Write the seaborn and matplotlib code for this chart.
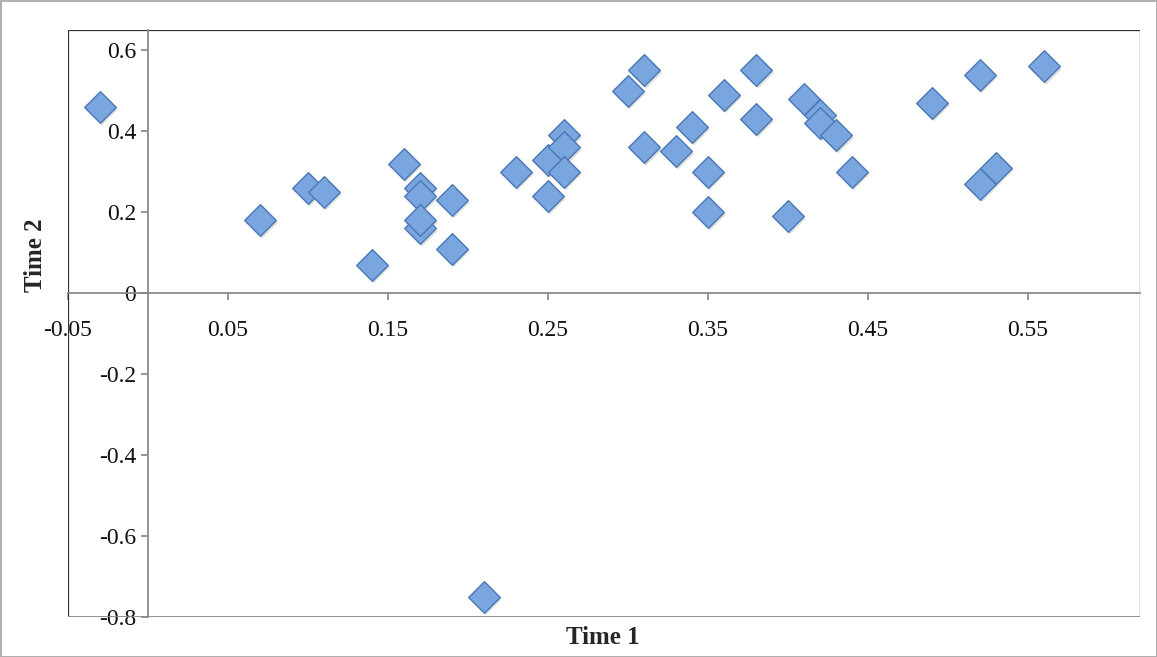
import matplotlib
matplotlib.use("Agg")
import matplotlib.pyplot as plt
from matplotlib.patches import Rectangle
import seaborn as sns
import pandas as pd

sns.set_theme(style="white")
plt.rcParams['font.family'] = ['Liberation Serif', 'DejaVu Serif']

time1 = [-0.03, 0.07, 0.10, 0.11, 0.14, 0.16, 0.17, 0.17, 0.17, 0.17, 0.19, 0.19, 0.21,
         0.23, 0.25, 0.25, 0.26, 0.26, 0.26, 0.30, 0.31, 0.31, 0.33, 0.34, 0.35, 0.35,
         0.36, 0.38, 0.38, 0.40, 0.41, 0.42, 0.42, 0.43, 0.44, 0.49, 0.52, 0.52, 0.53, 0.56]
time2 = [0.46, 0.18, 0.26, 0.25, 0.07, 0.32, 0.26, 0.24, 0.16, 0.18, 0.23, 0.11, -0.75,
         0.30, 0.33, 0.24, 0.39, 0.36, 0.30, 0.50, 0.55, 0.36, 0.35, 0.41, 0.30, 0.20,
         0.49, 0.55, 0.43, 0.19, 0.48, 0.44, 0.42, 0.39, 0.30, 0.47, 0.54, 0.27, 0.31, 0.56]
xticks = [-0.05, 0.05, 0.15, 0.25, 0.35, 0.45, 0.55]
yticks = [-0.8, -0.6, -0.4, -0.2, 0, 0.2, 0.4, 0.6]

df = pd.DataFrame({"Time 1": time1, "Time 2": time2})

fig = plt.figure(figsize=(11.57, 6.57), dpi=100)
fig.patch.set_edgecolor("#b0b0b0")
fig.patch.set_linewidth(2)
ax = fig.add_axes([68/1157, 40/657, 1072/1157, 587/657])

# shadow then marker
sns.scatterplot(x=[v + 0.0012 for v in time1], y=[v - 0.006 for v in time2], marker="D", s=260,
                color="#c8c8c8", edgecolor="none", alpha=0.6, ax=ax, zorder=2, legend=False)
sns.scatterplot(data=df, x="Time 1", y="Time 2", marker="D", s=260,
                color="#7aa6e0", edgecolor="#4a78b5", linewidth=1, ax=ax, zorder=3)

ax.set_xlim(-0.05, 0.62)
ax.set_ylim(-0.8, 0.65)
ax.set_xticks(xticks)
ax.set_xticklabels([f"{v:g}" for v in xticks])
ax.set_yticks(yticks)
ax.set_yticklabels([f"{v:g}" for v in yticks])
ax.spines['bottom'].set_position(('data', 0))
ax.spines['left'].set_position(('data', 0))
for s in ['top', 'right']:
    ax.spines[s].set_visible(False)
for s in ['bottom', 'left']:
    ax.spines[s].set_color("#8a8a8a")
    ax.spines[s].set_linewidth(1.3)
ax.add_patch(Rectangle((0, 0), 1, 1, transform=ax.transAxes, fill=False,
                       edgecolor="#333333", linewidth=0.9, zorder=1))
ax.axhline(-0.8, color="#8a8a8a", linewidth=2, zorder=1)
ax.tick_params(axis='both', labelsize=17, direction='out', length=5, color="#8a8a8a",
               bottom=True, left=True, labelcolor="#111111")
ax.tick_params(axis='x', pad=14)
ax.set_xlabel("")
ax.set_ylabel("")
fig.text(603/1157, 1 - 638/657, "Time 1", ha="center", va="center", fontsize=18, fontweight="bold")
fig.text(36/1157, 1 - 255/657, "Time 2", ha="center", va="center", fontsize=18,
         fontweight="bold", rotation=90)

fig.savefig("out.png", dpi=100)
